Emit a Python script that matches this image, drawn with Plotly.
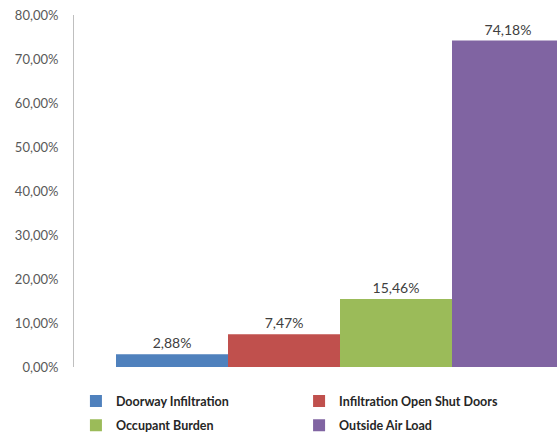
import plotly.graph_objects as go

series = ["Doorway Infiltration", "Infiltration Open Shut Doors", "Occupant Burden", "Outside Air Load"]
values = [2.88, 7.47, 15.46, 74.18]
colors = ["#4F81BD", "#C0504D", "#9BBB59", "#8064A2"]
legend_col = ["legend", "legend2", "legend", "legend2"]
category = [""]

fig = go.Figure()
for name, v, c, lg in zip(series, values, colors, legend_col):
    fig.add_trace(go.Bar(
        x=category, y=[v], name=name, marker=dict(color=c, line=dict(width=0)),
        text=[v], texttemplate="%{y:.2f}%", textposition="outside",
        textfont=dict(family="Lato", size=14, color="#404040"),
        cliponaxis=False, legend=lg, legendgroup=name,
    ))

leg_common = dict(
    orientation="v", xanchor="left", y=-0.055, yanchor="top",
    font=dict(family="Lato", size=12.5, color="#262626", weight="bold"),
    traceorder="grouped", tracegroupgap=5, bgcolor="rgba(0,0,0,0)",
)
fig.update_layout(
    width=557, height=434,
    margin=dict(l=74, r=0, t=15, b=67, autoexpand=False),
    paper_bgcolor="white", plot_bgcolor="white",
    barmode="group", bargap=0.2, bargroupgap=0,
    separators=", ",
    font=dict(family="Lato", color="#595959"),
    showlegend=True,
    legend=dict(x=0.004, **leg_common),
    legend2=dict(x=0.466, **leg_common),
)
fig.update_xaxes(range=[-0.475, 0.3875], showticklabels=False, showline=False,
                 showgrid=False, zeroline=False, ticks="", type="category")
fig.update_yaxes(range=[0, 80], dtick=10, tickformat=".2f", ticksuffix="%",
                 showgrid=False, zeroline=False, showline=True, linecolor="#BFBFBF",
                 linewidth=1, ticks="", ticklabelstandoff=12,
                 tickfont=dict(family="Lato", size=13, color="#595959"))

fig.write_html("out.html", config={"displayModeBar": False},
               post_script="document.body.style.margin='0';")
